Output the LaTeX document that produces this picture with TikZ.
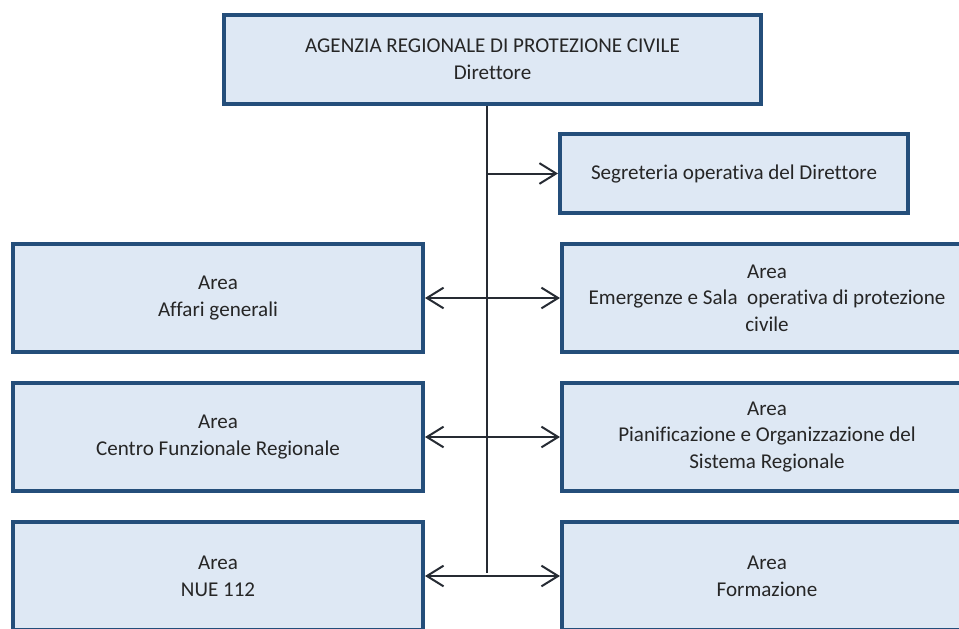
\documentclass[tikz,border=0pt]{standalone}
\usepackage{fontspec}
\setmainfont{Carlito}[Ligatures=NoCommon]
\usetikzlibrary{arrows.meta}

\definecolor{areafill}{RGB}{222,232,244}
\definecolor{arealine}{RGB}{36,78,122}
\definecolor{linkline}{RGB}{38,43,51}

\begin{document}
\begin{tikzpicture}[x=0.75pt,y=-0.75pt,
    area/.style={draw=arealine, fill=areafill, line width=3pt, align=center,
        text=black!85, font=\fontsize{15.8}{20}\selectfont,
        minimum width=307.5pt, minimum height=81pt, inner sep=0pt},
    link/.style={draw=linkline, line width=1.5pt},
    >={Straight Barb[length=12.5pt,width=15.5pt]}]

        \useasboundingbox (0,0) rectangle (959,628);
        \clip (0,0) rectangle (959,628);

        \node[area, minimum width=402.75pt, minimum height=66.75pt] (direttore) at (492.5,59.5) {AGENZIA REGIONALE DI PROTEZIONE CIVILE\\Direttore};
        \node[area, minimum width=261pt, minimum height=59.25pt] (segreteria) at (734,173.5) {Segreteria operativa del Direttore};

        \node[area] (affari) at (218,298) {Area\\Affari generali};
        \node[area] (emergenze) at (767,298) {Area\\Emergenze e Sala~ operativa di protezione\\civile};

        \node[area] (centro) at (218,437) {Area\\Centro Funzionale Regionale};
        \node[area] (pianificazione) at (767,437) {Area\\Pianificazione e Organizzazione del\\Sistema Regionale};

        \node[area] (nue) at (218,576) {Area\\NUE 112};
        \node[area] (formazione) at (767,576) {Area\\Formazione};

        \coordinate (trunkend) at (487,573);
        \coordinate (segjoin) at (trunkend |- segreteria.west);

        \draw[link] (trunkend |- direttore.south) -- (trunkend);
        \draw[link, ->] (segjoin) -- (segreteria.west);
        \draw[link, <->] (affari.east) -- (emergenze.west);
        \draw[link, <->] (centro.east) -- (pianificazione.west);
        \draw[link, <->] (nue.east) -- (formazione.west);

    \end{tikzpicture}
\end{document}
